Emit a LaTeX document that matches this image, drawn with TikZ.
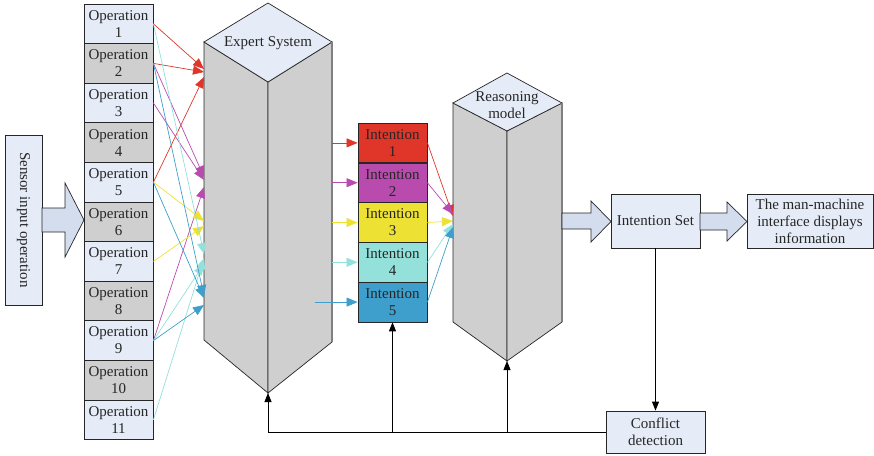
\documentclass[tikz,border=0pt]{standalone}
\usepackage{fontspec}
\setmainfont{Liberation Serif}
\usetikzlibrary{arrows.meta}
\definecolor{boxblue}{HTML}{E6ECF7}
\definecolor{boxgray}{HTML}{CFCFCF}
\definecolor{fatblue}{HTML}{D3DDEE}
\definecolor{ired}{HTML}{E0362A}
\definecolor{imag}{HTML}{B94BAF}
\definecolor{iyel}{HTML}{EDE233}
\definecolor{icyan}{HTML}{93E1DA}
\definecolor{iblue}{HTML}{3E9FCD}
\begin{document}
\begin{tikzpicture}[x=1pt,y=-1pt,>={Triangle[length=9pt,width=7pt]},
	every node/.style={font=\fontsize{15}{17}\selectfont, text=black!85, align=center},
	opbox/.style={draw=black!85, line width=0.8pt, minimum width=69pt, minimum height=39.6pt, inner sep=0pt},
	plainbox/.style={draw=black!85, line width=0.8pt, fill=boxblue, inner sep=0pt},
	prism/.style={draw=black!85, line width=0.7pt, fill=boxgray},
	fat/.style={draw=black!85, line width=0.7pt, fill=fatblue},
	link/.style={-{Triangle[length=11pt,width=9pt]}, line width=0.7pt}]
	\useasboundingbox (0,0) rectangle (874,455);
	% sensor input
	\node[plainbox, rotate=-90, minimum width=170pt, minimum height=37pt] (sensor) at (23.5,220) {Sensor input operation};
	\draw[fat] (42,208) -- (65,208) -- (65,183) -- (84,220) -- (65,257) -- (65,232) -- (42,232) -- cycle;
	% operations
	\foreach \i in {1,...,11}{
		\ifodd\i \def\c{boxblue}\else\def\c{boxgray}\fi
		\node[opbox, fill=\c] (op\i) at (118.5,{4+39.6*(\i-0.5)}) {Operation\\\i};
	}
	% expert system
	\draw[prism] (204,42) -- (268,82) -- (268,393) -- (204,340) -- cycle;
	\draw[prism] (268,82) -- (332,42) -- (332,342) -- (268,393) -- cycle;
	\draw[prism, fill=boxblue] (268,3) -- (332,42) -- (268,82) -- (204,42) -- cycle;
	\draw[gray, line width=1.2pt] (332,42) -- (332,342);
	\node (es) at (268,43) {Expert System};
	\coordinate (esbot) at (268,393);
	\foreach \n/\y in {r1/69,r2/72,r5/77,m2/177,m3/180,m9/187,y5/221,y7/226,c1/254,c11/258,c9/264,b2/296,b5/298,b9/305}
		\coordinate (es\n) at (204,\y);
	\foreach \o/\n/\c in {1/r1/ired,2/r2/ired,5/r5/ired,2/m2/imag,3/m3/imag,9/m9/imag,5/y5/iyel,7/y7/iyel,1/c1/icyan,11/c11/icyan,9/c9/icyan,2/b2/iblue,5/b5/iblue,9/b9/iblue}
		\draw[link,\c] (op\o.east) -- (es\n);
	% intentions
	\foreach \i/\c/\d in {1/ired/26,2/imag/26,3/iyel/26,4/icyan/26,5/iblue/43}{
		\node[opbox, fill=\c] (int\i) at (392.5,{123+39.8*(\i-0.5)}) {Intention\\\i};
		\coordinate (eo\i) at ([xshift=-\d pt]int\i.west);
		\draw[link,\c] (eo\i) -- (int\i.west);
	}
	% reasoning model
	\draw[prism] (453,103) -- (507,131) -- (507,361) -- (453,322) -- cycle;
	\draw[prism] (507,131) -- (562,103) -- (562,322) -- (507,361) -- cycle;
	\draw[prism, fill=boxblue] (507,73) -- (562,103) -- (507,131) -- (453,103) -- cycle;
	\draw[gray, line width=1.2pt] (562,103) -- (562,322);
	\node (rm) at (507,105) {Reasoning\\model};
	\coordinate (rmbot) at (507,361);
	\foreach \i/\c/\y in {1/ired/216,2/imag/214,3/iyel/221,4/icyan/224,5/iblue/227}{
		\coordinate (ri\i) at (453,\y);
		\draw[link,\c] (int\i.east) -- (ri\i);
	}
	% output side
	\draw[fat] (562,213) -- (591,213) -- (591,201) -- (611,221.5) -- (591,242) -- (591,229) -- (562,229) -- cycle;
	\node[plainbox, minimum width=89pt, minimum height=54pt] (is) at (655.5,221) {Intention Set};
	\draw[fat] (700,213) -- (727,213) -- (727,202) -- (747,221.5) -- (727,241) -- (727,230) -- (700,230) -- cycle;
	\node[plainbox, minimum width=126pt, minimum height=54pt] (mmi) at (810,221) {The man-machine\\interface displays\\information};
	\node[plainbox, minimum width=99pt, minimum height=42pt] (cd) at (655.5,432) {Conflict\\detection};
	% feedback
	\draw[->, line width=0.8pt] (is.south) -- (cd.north);
	\draw[->, line width=0.8pt] (cd.west) -| (esbot);
	\draw[->, line width=0.8pt] (cd.west -| int5.south) -- (int5.south);
	\draw[->, line width=0.8pt] (cd.west -| rmbot) -- (rmbot);
\end{tikzpicture}
\end{document}
